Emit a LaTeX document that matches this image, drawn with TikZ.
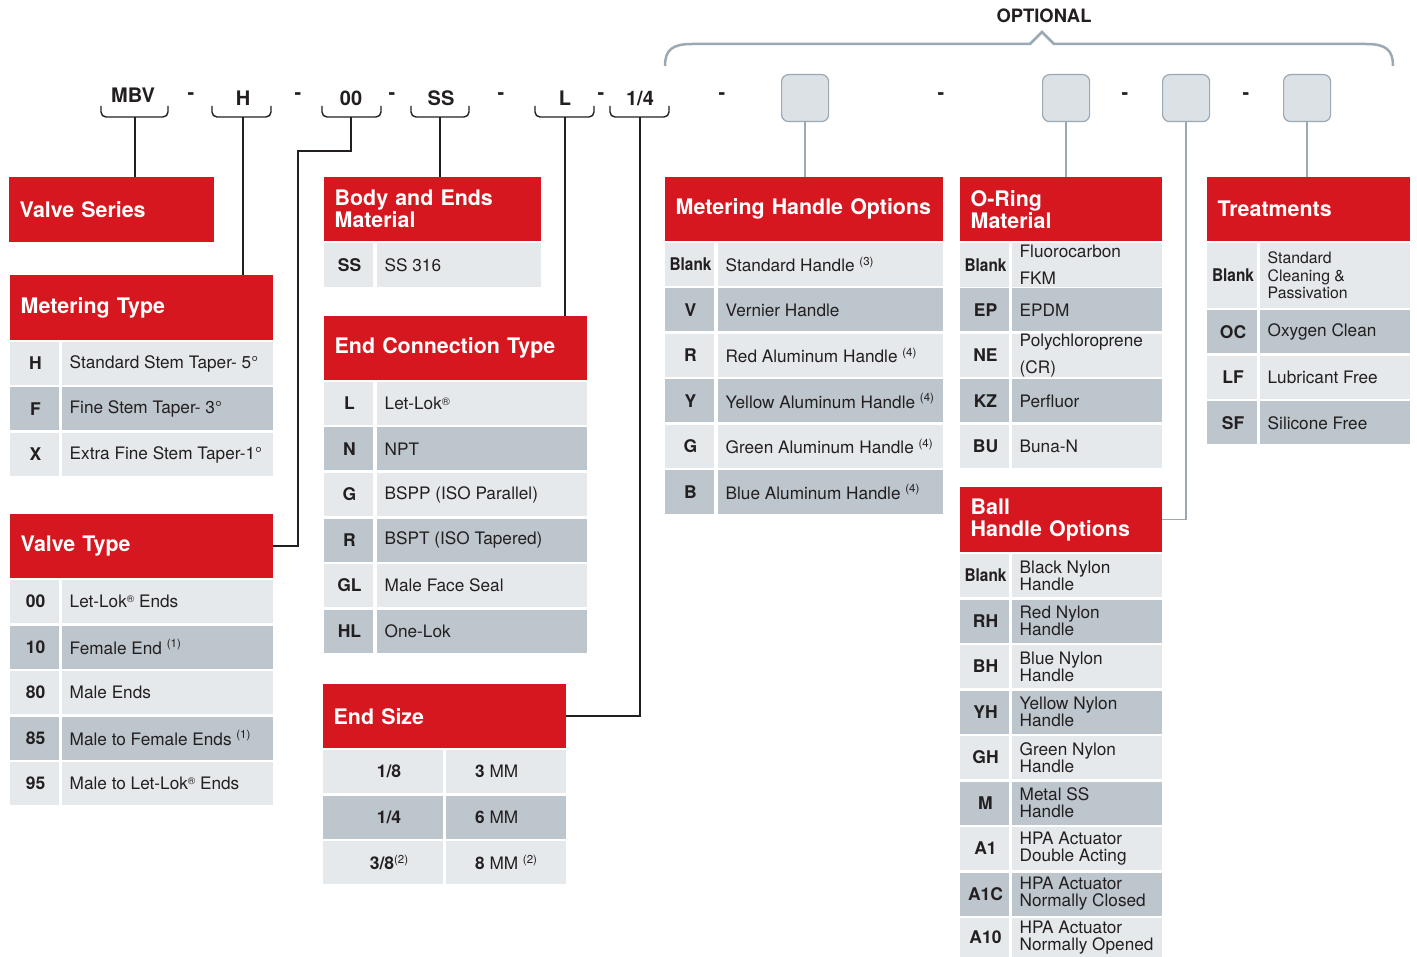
\documentclass[tikz,border=0pt]{standalone}
\usepackage{fontspec}
\setmainfont{TeX Gyre Heros}
\usepackage{graphicx}
\definecolor{pred}{HTML}{D7171F}
\definecolor{rowL}{HTML}{E6E9EC}
\definecolor{rowD}{HTML}{BCC6CC}
\definecolor{ink}{HTML}{231F20}
\definecolor{optc}{HTML}{9AA9B3}
\definecolor{optfill}{HTML}{DCE1E5}
\newcommand\bodyf{\fontsize{17.2}{17}\selectfont}
\newcommand\hdrf{\fontsize{21.4}{22}\selectfont\bfseries}
\newcommand\codef{\fontsize{17.5}{17.5}\selectfont\bfseries}
\newcommand\fnote[1]{\raisebox{0.36em}{\fontsize{11.5}{11.5}\selectfont\mdseries(#1)}}
\newcommand\regm{\raisebox{0.32em}{\fontsize{10}{10}\selectfont\char"00AE}}
\newcommand\blk{\scalebox{0.88}[1]{Blank}}
\tikzset{
  hdr/.style={fill=pred, text=white, inner xsep=10.5pt, inner ysep=0pt, anchor=north west, align=left, font=\hdrf},
  codetxt/.style={text=ink, font=\codef, inner sep=0pt},
  desctxt/.style={text=ink, font=\bodyf, anchor=west, inner sep=0pt, align=left},
  toplbl/.style={text=ink, font=\fontsize{20}{20}\selectfont\bfseries, inner sep=0pt, anchor=base},
  brk/.style={draw=ink, line width=1.4pt, rounded corners=5pt},
  conn/.style={draw=ink, line width=1.5pt},
  optconn/.style={draw=optc, line width=1.5pt},
  optbox/.style={draw=optc, fill=optfill, line width=1.2pt, rounded corners=7pt, minimum width=47pt, minimum height=47pt, inner sep=0pt, anchor=north west},
  bracestyle/.style={draw=optc, line width=2.5pt}
}
% header: name, x, y, w, h, text
\newcommand\hdrnode[6]{%
  \pgfmathsetmacro\hdrtw{#4-21}%
  \node[hdr, text width=\hdrtw pt, minimum height=#5pt] (#1) at (#2,#3) {#6};}
% row: [desc opts] name, y, h, fill, code, desc
\newcommand\trow[7][]{%
  \fill[#5] (\cxa,#3) rectangle (\cxb,{#3+#4});
  \fill[#5] (\cxc,#3) rectangle (\cxd,{#3+#4});
  \node[codetxt] (#2c) at ({(\cxa+\cxb)/2+1},{#3+#4/2}) {#6};
  \node[desctxt,#1] (#2d) at ({\cxc+7.5},{#3+#4/2}) {#7};}
% end size row: name, y, fill, c1, c2
\newcommand\esrow[5]{%
  \fill[#3] (323,#2) rectangle (443,{#2+43});
  \fill[#3] (446,#2) rectangle (566,{#2+43});
  \node[codetxt] (#1a) at (389,{#2+21.5}) {#4};
  \node[desctxt] (#1b) at (475,{#2+21.5}) {#5};}
% bracket: name, x1, x2, xstem
\newcommand\codebracket[4]{%
  \draw[brk] (#2,106) -- (#2,117) -- (#3,117) -- (#3,106);
  \coordinate (#1) at (#4,117);}
\begin{document}
\begin{tikzpicture}[x=1pt,y=-1pt]
\useasboundingbox (0,0) rectangle (1417,957);
\fill[white] (0,0) rectangle (1417,957);

% ---------- top code row ----------
\node[toplbl] (lMBV) at (133,103) {MBV};
\node[toplbl] (lH) at (243,105.5) {H};
\node[toplbl] (l00) at (351,105.5) {00};
\node[toplbl] (lSS) at (441,105.5) {SS};
\node[toplbl] (lL) at (565,105.5) {L};
\node[toplbl] (l14) at (640,105.5) {1/4};
\foreach \dx [count=\i] in {191,298,392,501,601,722,941,1125,1246}
  \node[toplbl] (dash\i) at (\dx,100) {-};

\codebracket{bMBV}{101}{168}{135}
\codebracket{bH}{212}{271}{243}
\codebracket{b00}{322}{381}{351}
\codebracket{bSS}{411}{469}{440}
\codebracket{bL}{535}{594}{565}
\codebracket{b14}{610}{669}{640}

% optional
\node[text=ink, font=\fontsize{18.4}{18}\selectfont\bfseries, inner sep=0pt, anchor=base] (optl) at (1044,23) {OPTIONAL};
\draw[bracestyle] (665,66) .. controls (665,50) and (672,44) .. (692,44) -- (1030,44) -- (1042,32) -- (1054,44) -- (1366,44) .. controls (1386,44) and (1393,50) .. (1393,66);
\node[optbox] (o1) at (781,74) {};
\node[optbox] (o2) at (1042,74) {};
\node[optbox] (o3) at (1162,74) {};
\node[optbox] (o4) at (1283,74) {};

% ---------- headers ----------
\hdrnode{hVS}{9}{177}{205}{65}{Valve Series}
\hdrnode{hMT}{10}{275}{263}{65}{Metering Type}
\hdrnode{hVT}{10}{514}{263}{64}{Valve Type}
\hdrnode{hBM}{324}{177}{217}{64}{Body and Ends\\Material}
\hdrnode{hEC}{324}{316}{263}{64}{End Connection Type}
\hdrnode{hES}{323}{684}{243}{64}{End Size}
\hdrnode{hMHO}{665}{177}{278}{64}{Metering Handle Options}
\hdrnode{hOR}{960}{177}{202}{64}{O-Ring\\Material}
\hdrnode{hBall}{960}{487}{202}{65}{Ball\\Handle Options}
\hdrnode{hTR}{1207}{177}{203}{64}{Treatments}

% ---------- connectors ----------
\draw[conn] (bMBV) -- (bMBV |- hVS.north);
\draw[conn] (bH) -- (bH |- hMT.north);
\draw[conn] (b00) -- (351,151) -- (298,151) |- (hVT.east);
\draw[conn] (bSS) -- (bSS |- hBM.north);
\draw[conn] (bL) -- (bL |- hEC.north);
\draw[conn] (b14) |- (hES.east);
\draw[optconn] (o1.south) -- (o1.south |- hMHO.north);
\draw[optconn] (o2.south) -- (o2.south |- hOR.north);
\draw[optconn] (o3.south) |- (hBall.east);
\draw[optconn] (o4.south) -- (o4.south |- hTR.north);

% ---------- Metering Type ----------
\def\cxa{10}\def\cxb{59}\def\cxc{62}\def\cxd{273}
\trow{mtH}{342}{43}{rowL}{H}{Standard Stem Taper- 5°}
\trow{mtF}{387.5}{43}{rowD}{F}{Fine Stem Taper- 3°}
\trow{mtX}{433}{43}{rowL}{X}{Extra Fine Stem Taper-1°}

% ---------- Valve Type ----------
\trow{vtA}{580}{43}{rowL}{00}{Let-Lok\regm{} Ends}
\trow{vtB}{625.5}{43}{rowD}{10}{Female End \fnote{1}}
\trow{vtC}{671}{43}{rowL}{80}{Male Ends}
\trow{vtD}{716.5}{43}{rowD}{85}{Male to Female Ends \fnote{1}}
\trow{vtE}{762}{43}{rowL}{95}{Male to Let-Lok\regm{} Ends}

% ---------- Body and Ends ----------
\def\cxa{324}\def\cxb{373}\def\cxc{377}\def\cxd{541}
\trow{bmA}{243}{44}{rowL}{SS}{SS 316}

% ---------- End Connection ----------
\def\cxd{587}
\trow{ecA}{382}{43}{rowL}{L}{Let-Lok\raisebox{0.25em}{\fontsize{11}{11}\selectfont\char"00AE}}
\trow{ecB}{427.5}{43}{rowD}{N}{NPT}
\trow{ecC}{473}{43}{rowL}{G}{BSPP (ISO Parallel)}
\trow{ecD}{518.5}{43}{rowD}{R}{BSPT (ISO Tapered)}
\trow{ecE}{564}{43}{rowL}{GL}{Male Face Seal}
\trow{ecF}{609.5}{43}{rowD}{HL}{One-Lok}

% ---------- End Size ----------
\esrow{esA}{750}{rowL}{1/8}{\textbf{3} MM}
\esrow{esB}{795.5}{rowD}{1/4}{\textbf{6} MM}
\esrow{esC}{841}{rowL}{3/8\fnote{2}}{\textbf{8} MM \fnote{2}}

% ---------- Metering Handle Options ----------
\def\cxa{665}\def\cxb{714}\def\cxc{718}\def\cxd{943}
\trow{mhA}{243}{43}{rowL}{\blk}{Standard Handle \fnote{3}}
\trow{mhB}{288.5}{43}{rowD}{V}{Vernier Handle}
\trow{mhC}{334}{43}{rowL}{R}{Red Aluminum Handle \fnote{4}}
\trow{mhD}{379.5}{43}{rowD}{Y}{Yellow Aluminum Handle \fnote{4}}
\trow{mhE}{425}{43}{rowL}{G}{Green Aluminum Handle \fnote{4}}
\trow{mhF}{470.5}{43}{rowD}{B}{Blue Aluminum Handle \fnote{4}}

% ---------- O-Ring ----------
\def\cxa{960}\def\cxb{1009}\def\cxc{1012}\def\cxd{1162}
\trow[font=\fontsize{17.2}{27}\selectfont]{orA}{243}{44}{rowL}{\blk}{Fluorocarbon\\FKM}
\trow{orB}{288.5}{43}{rowD}{EP}{EPDM}
\trow[font=\fontsize{17.2}{27}\selectfont]{orC}{334}{43}{rowL}{NE}{Polychloroprene\\(CR)}
\trow{orD}{379.5}{43}{rowD}{KZ}{Perfluor}
\trow{orE}{425}{43}{rowL}{BU}{Buna-N}

% ---------- Ball Handle Options ----------
\trow{baA}{554}{43}{rowL}{\blk}{Black Nylon\\Handle}
\trow{baB}{599.5}{43}{rowD}{RH}{Red Nylon\\Handle}
\trow{baC}{645}{43}{rowL}{BH}{Blue Nylon\\Handle}
\trow{baD}{690.5}{43}{rowD}{YH}{Yellow Nylon\\Handle}
\trow{baE}{736}{43}{rowL}{GH}{Green Nylon\\Handle}
\trow{baF}{781.5}{43}{rowD}{M}{Metal SS\\Handle}
\trow{baG}{827}{43}{rowL}{A1}{HPA Actuator\\Double Acting}
\trow{baH}{872.5}{43}{rowD}{A1C}{HPA Actuator\\Normally Closed}
\trow{baI}{918}{39}{rowL}{A10}{HPA Actuator\\Normally Opened}

% ---------- Treatments ----------
\def\cxa{1207}\def\cxb{1257}\def\cxc{1260}\def\cxd{1410}
\trow[font=\fontsize{15.8}{17.5}\selectfont]{trA}{243}{65}{rowL}{\blk}{Standard\\Cleaning \&\\Passivation}
\trow{trB}{310.5}{43}{rowD}{OC}{Oxygen Clean}
\trow{trC}{356}{43}{rowL}{LF}{Lubricant Free}
\trow{trD}{401.5}{43}{rowD}{SF}{Silicone Free}
\end{tikzpicture}
\end{document}
